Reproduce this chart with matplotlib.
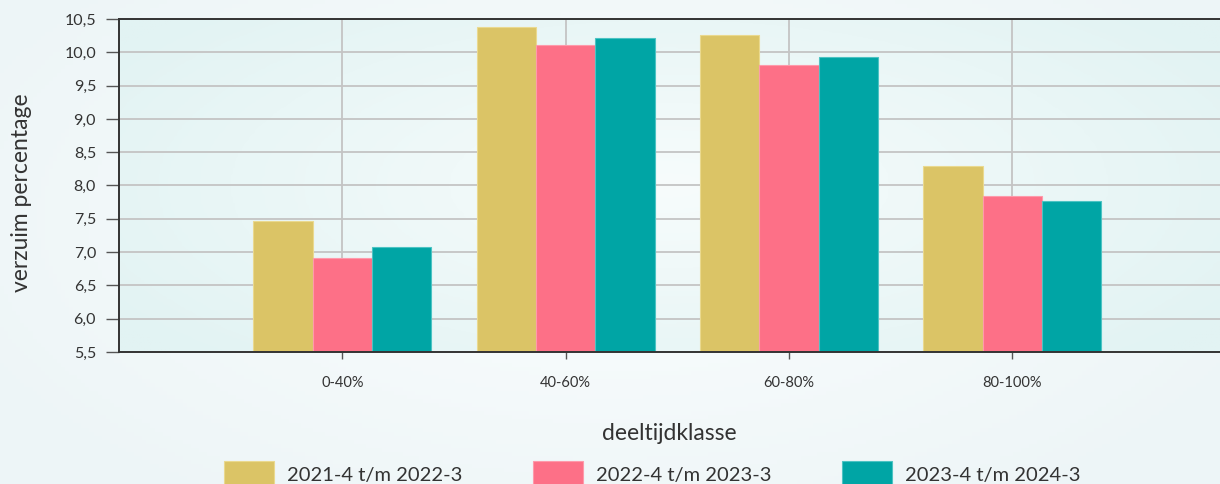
import numpy as np
import matplotlib.pyplot as plt
from matplotlib.colors import LinearSegmentedColormap

plt.rcParams['font.family'] = ['Lato', 'DejaVu Sans']

# # Data:
categories = ['0-40%', '40-60%', '60-80%', '80-100%']
series_names = ['2021-4 t/m 2022-3', '2022-4 t/m 2023-3', '2023-4 t/m 2024-3']
values_2122 = [7.47, 10.38, 10.26, 8.29]
values_2223 = [6.91, 10.11, 9.81, 7.84]
values_2324 = [7.08, 10.21, 9.93, 7.77]
y_ticks = [5.5, 6.0, 6.5, 7.0, 7.5, 8.0, 8.5, 9.0, 9.5, 10.0, 10.5]

colors = ['#dbc466', '#fd7087', '#00a5a5']
edge_colors = ['#ead98f', '#fe9aab', '#4cc3c3']


def radial_gradient(w, h, inner, outer, cx=0.5, cy=0.5):
    xx, yy = np.meshgrid(np.linspace(0, 1, w), np.linspace(0, 1, h))
    r = np.sqrt(((xx - cx) / 0.6) ** 2 + ((yy - cy) / 0.75) ** 2)
    r = np.clip(r, 0, 1)
    cmap = LinearSegmentedColormap.from_list('bg', [inner, outer])
    return cmap(r)


fig = plt.figure(figsize=(12.2, 4.84), dpi=100)

# # Figure background gradient:
bg_ax = fig.add_axes([0, 0, 1, 1], zorder=-10)
bg_ax.imshow(radial_gradient(300, 120, '#fbfefe', '#edf5f7', cy=0.45), aspect='auto', extent=[0, 1, 0, 1])
bg_ax.axis('off')

ax = fig.add_axes([119 / 1220, 132 / 484, 1 - 119 / 1220, 333 / 484])
ax.set_facecolor('none')

x_pos = np.arange(1, len(categories) + 1)
bar_w = 0.266

ax.set_xlim(0, 1101 / 223.3)
ax.set_ylim(5.5, 10.5)

# # Axes background gradient:
ax.imshow(radial_gradient(300, 120, '#f7fcfc', '#e2f3f3', cy=0.5), aspect='auto',
          extent=[0, 1101 / 223.3, 5.5, 10.5], zorder=0)

for i, vals in enumerate([values_2122, values_2223, values_2324]):
    ax.bar(x_pos + (i - 1) * bar_w, [v - 5.5 for v in vals], bottom=5.5, width=bar_w,
           color=colors[i], edgecolor=edge_colors[i], linewidth=0.8,
           label=series_names[i], zorder=3)

ax.set_xticks(x_pos)
ax.set_xticklabels(categories, fontsize=10.5, color='#333333')
ax.set_yticks(y_ticks)
ax.set_yticklabels([f"{t:.1f}".replace('.', ',') for t in y_ticks], fontsize=11.5, color='#333333')

ax.grid(True, color='#c4c4c4', linewidth=1.3, zorder=1)
ax.set_axisbelow(True)

ax.spines['right'].set_visible(False)
for s in ['left', 'top', 'bottom']:
    ax.spines[s].set_color('#333333')
    ax.spines[s].set_linewidth(1.4)
    ax.spines[s].set_zorder(4)

ax.tick_params(axis='y', length=9.5, width=1.0, color='#555555', pad=7)
ax.tick_params(axis='x', length=5, width=1.0, color='#555555', pad=12)

ax.set_xlabel('deeltijdklasse', fontsize=16.5, color='#333333', labelpad=24)
fig.text(22 / 1220, 1 - 193 / 484, 'verzuim percentage', rotation=90, fontsize=16.5,
         color='#333333', ha='center', va='center')

handles, labels = ax.get_legend_handles_labels()
fig.legend(handles, labels, loc='center', bbox_to_anchor=(652 / 1220, 1 - 474 / 484), ncol=3,
           frameon=False, fontsize=14.5, handlelength=2.48, handleheight=1.6,
           handletextpad=0.65, columnspacing=3.5, labelcolor='#333333')

plt.savefig('out.png', dpi=100)
